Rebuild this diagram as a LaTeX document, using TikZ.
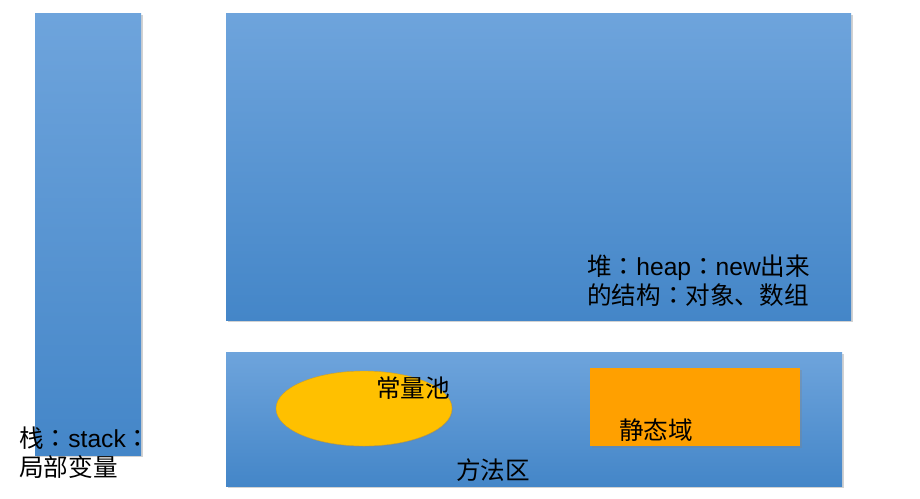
\documentclass[tikz,border=0pt]{standalone}
\usepackage{fontspec}
\setmainfont{Liberation Sans}
\newfontfamily\cjk{Noto Sans CJK SC}
\newfontfamily\cjktc{Noto Sans CJK TC}
\newcommand{\fcolon}{{\cjktc ：}}
\usetikzlibrary{shadows,shapes.geometric}
\definecolor{bluetop}{RGB}{110,164,220}
\definecolor{bluebot}{RGB}{68,134,200}
\definecolor{poolc}{RGB}{255,192,0}
\definecolor{pooledge}{RGB}{205,160,40}
\definecolor{staticc}{RGB}{255,160,0}
\tikzset{
  membox/.style={rectangle, inner sep=0pt, top color=bluetop, bottom color=bluebot, draw=none,
    drop shadow={opacity=0.35, shadow xshift=1.5pt, shadow yshift=-1.5pt}},
  lbl/.style={font=\fontsize{24.6}{29}\selectfont, text=black, inner sep=0pt, align=left},
}
\begin{document}
\begin{tikzpicture}[x=1pt,y=-1pt]
\useasboundingbox[fill=white] (0,0) rectangle (920,498);
% stack
\node[membox, minimum width=106pt, minimum height=442pt] (stack) at (88,234) {};
% heap
\node[membox, minimum width=625pt, minimum height=307pt] (heap) at (538.5,166.5) {};
% method area
\node[membox, minimum width=616pt, minimum height=134pt] (method) at (534,419) {};
% constant pool
\node[ellipse, fill=poolc, draw=pooledge, line width=0.4pt, minimum width=176pt, minimum height=75pt, inner sep=0pt,
  drop shadow={opacity=0.25, shadow xshift=1pt, shadow yshift=-1pt}] (pool) at (364,408.5) {};
% static area
\node[rectangle, fill=staticc, draw=none, minimum width=210pt, minimum height=78pt, inner sep=0pt,
  drop shadow={opacity=0.3, shadow xshift=1.5pt, shadow yshift=-1.5pt}] (static) at (695,407) {};
% labels
\node[lbl, anchor=west] (poolt) at (376,388) {\cjk 常量池};
\node[lbl, anchor=west] (statict) at (619,430) {\cjk 静态域};
\node[lbl, anchor=west] (methodt) at (456,470) {\cjk 方法区};
\node[lbl, anchor=north west] (stackt) at (19,427) {{\cjk 栈}\fcolon stack\fcolon\\{\cjk 局部变量}};
\node[lbl, anchor=north west] (heapt) at (587,255) {{\cjk 堆}\fcolon heap\fcolon new{\cjk 出来}\\{\cjk 的结构}\fcolon{\cjk 对象、数组}};
\end{tikzpicture}
\end{document}
